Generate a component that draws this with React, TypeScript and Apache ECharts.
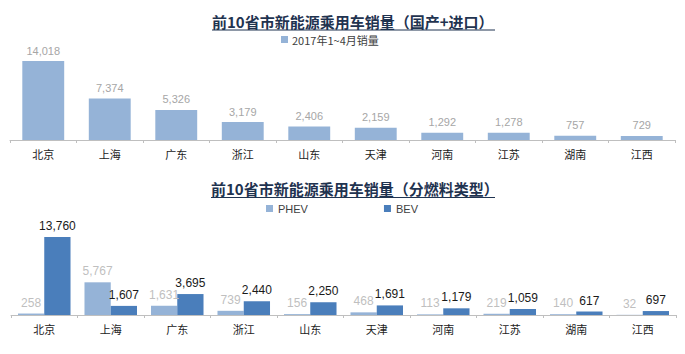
import React, { useEffect, useRef } from "react";
import * as echarts from "echarts";

const provinces = ["北京", "上海", "广东", "浙江", "山东", "天津", "河南", "江苏", "湖南", "江西"];
const totalSales = [14018, 7374, 5326, 3179, 2406, 2159, 1292, 1278, 757, 729];
const phevSales = [258, 5767, 1631, 739, 156, 468, 113, 219, 140, 32];
const bevSales = [13760, 1607, 3695, 2440, 2250, 1691, 1179, 1059, 617, 697];

const title1 = "前10省市新能源乘用车销量（国产+进口）";
const title2 = "前10省市新能源乘用车销量（分燃料类型）";
const legendTotal = "2017年1~4月销量";

const CJK = "'Noto Sans CJK SC', 'Liberation Sans', sans-serif";
const NUM = "'Liberation Sans', Arial, sans-serif";

export default function App() {
  const ref = useRef<HTMLDivElement>(null);
  useEffect(() => {
    if (!ref.current) return;
    const chart = echarts.init(ref.current, undefined, { renderer: "svg" });
    const fmt = (p: any) => Number(p.value).toLocaleString("en-US");
    const axisCommon = {
      type: "category" as const,
      data: provinces,
      axisLine: { lineStyle: { color: "#bfbfbf", width: 1 } },
      axisTick: { show: true, length: 3, lineStyle: { color: "#bfbfbf" } },
      axisLabel: { color: "#222", fontSize: 11, fontFamily: CJK, margin: 8 },
    };
    chart.setOption({
      animation: false,
      backgroundColor: "#ffffff",
      title: [
        {
          text: title1,
          left: 212,
          top: 14,
          textStyle: { fontSize: 15, fontWeight: "bold", color: "#1f3350", fontFamily: CJK },
          padding: 0,
        },
        {
          text: title2,
          left: 211,
          top: 181,
          textStyle: { fontSize: 15, fontWeight: "bold", color: "#1f3350", fontFamily: CJK },
          padding: 0,
        },
      ],
      graphic: [
        { type: "line", shape: { x1: 212, y1: 30, x2: 495, y2: 30 }, style: { stroke: "#1f3350", lineWidth: 1 } },
        { type: "line", shape: { x1: 211, y1: 197.5, x2: 495, y2: 197.5 }, style: { stroke: "#1f3350", lineWidth: 1 } },
      ],
      legend: [
        {
          data: [legendTotal],
          top: 34,
          left: 281,
          itemWidth: 7,
          itemHeight: 7,
          itemGap: 5,
          padding: 0,
          icon: "rect",
          textStyle: { fontSize: 11, color: "#404040", fontFamily: CJK, padding: [0, 0, 0, -1] },
        },
        {
          data: ["PHEV", "BEV"],
          top: 203,
          left: 266,
          itemGap: 76,
          itemWidth: 7,
          itemHeight: 7,
          padding: 0,
          icon: "rect",
          textStyle: { fontSize: 11, color: "#404040", fontFamily: NUM },
        },
      ],
      grid: [
        { left: 10, right: 10, top: 61, height: 79 },
        { left: 11, right: 9, top: 237, height: 78 },
      ],
      xAxis: [
        { ...axisCommon, gridIndex: 0 },
        { ...axisCommon, gridIndex: 1 },
      ],
      yAxis: [
        { type: "value", gridIndex: 0, min: 0, max: 14018, show: false, splitLine: { show: false } },
        { type: "value", gridIndex: 1, min: 0, max: 13760, show: false, splitLine: { show: false } },
      ],
      series: [
        {
          name: legendTotal,
          type: "bar",
          xAxisIndex: 0,
          yAxisIndex: 0,
          data: totalSales,
          barCategoryGap: "37%",
          itemStyle: { color: "#95b3d7" },
          label: { show: true, position: "top", formatter: fmt, color: "#a6a6a6", fontSize: 11, fontFamily: NUM, distance: 5 },
        },
        {
          name: "PHEV",
          type: "bar",
          xAxisIndex: 1,
          yAxisIndex: 1,
          data: phevSales,
          barGap: "0%",
          barCategoryGap: "21%",
          itemStyle: { color: "#95b3d7" },
          label: { show: true, position: "top", formatter: fmt, color: "#bfbfbf", fontSize: 12, fontFamily: NUM, distance: 5 },
        },
        {
          name: "BEV",
          type: "bar",
          xAxisIndex: 1,
          yAxisIndex: 1,
          data: bevSales,
          barGap: "0%",
          barCategoryGap: "21%",
          itemStyle: { color: "#4a7ebb" },
          label: { show: true, position: "top", formatter: fmt, color: "#1a1a1a", fontSize: 12, fontFamily: NUM, distance: 5 },
        },
      ],
    });
    return () => chart.dispose();
  }, []);
  return <div ref={ref} style={{ position: "absolute", left: 0, top: 0, width: 685, height: 354 }} />;
}
